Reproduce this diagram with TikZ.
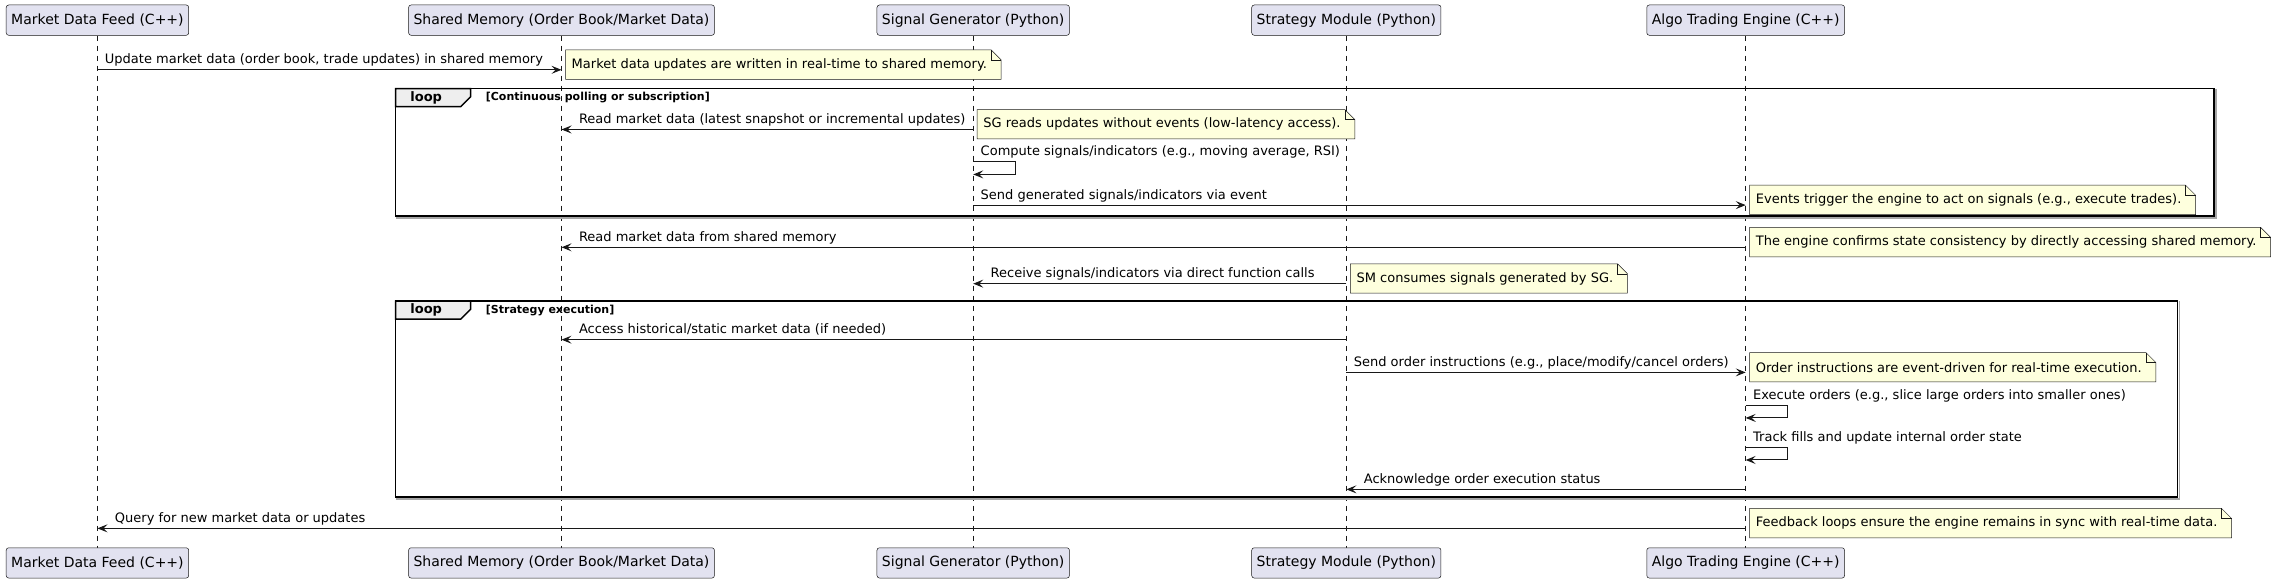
\documentclass[tikz,border=0pt]{standalone}
\usepackage{fontspec}
\setmainfont{DejaVu Sans}
\usetikzlibrary{arrows.meta, positioning}
\definecolor{umlline}{HTML}{181818}
\definecolor{umlhead}{HTML}{E2E2F0}
\definecolor{umlnote}{HTML}{FEFFDD}
\definecolor{umltab}{HTML}{EEEEEE}
\pgfdeclarelayer{lifelayer}
\pgfdeclarelayer{notelayer}
\pgfsetlayers{lifelayer,notelayer,main}
\tikzset{
  headbox/.style = {
    rectangle,
    rounded corners=2.5pt,
    draw=umlline,
    fill=umlhead,
    line width=0.5pt,
    font=\fontsize{14}{16}\selectfont,
    inner xsep=5pt,
    minimum height=30.3pt
  },
  lifeline/.style = {
    draw=umlline,
    line width=0.5pt,
    dash pattern=on 5pt off 5pt
  },
  msg/.style = {
    draw=umlline,
    line width=1pt,
    -{Stealth[length=10pt, width=8pt, inset=4pt]}
  },
  msgtext/.style = {
    font=\fontsize{13}{15}\selectfont,
    inner sep=0pt,
    anchor=base west
  },
  lblR/.style = {msgtext, at start, xshift=7pt, yshift=6pt},
  lblL/.style = {msgtext, at end, xshift=17pt, yshift=6pt},
  lblS/.style = {msgtext, xshift=7pt, yshift=6pt},
  notetext/.style = {
    font=\fontsize{13}{15}\selectfont,
    anchor=south west,
    inner xsep=6pt,
    inner ysep=0pt,
    minimum height=29pt
  },
  notefold/.style = {
    draw=umlline,
    line width=0.5pt
  },
  loopframe/.style = {draw=black, line width=1.5pt},
  loopshadow/.style = {draw=black!35, line width=1.5pt},
  looptab/.style = {draw=black, fill=umltab, line width=1.5pt},
  looplabel/.style = {font=\fontsize{13}{15}\selectfont\bfseries, anchor=west, inner sep=0pt},
  guardlabel/.style = {font=\fontsize{11}{13}\selectfont\bfseries, anchor=west, inner sep=0pt}
}

\begin{document}
\begin{tikzpicture}[x=1.4547pt, y=-1.4547pt]
  \useasboundingbox (0,0) rectangle (1568,401);

  % Participants (top and bottom)
  \node[headbox] (mdf) at (67, 13.85) {Market Data Feed (C++)};
  \node[headbox] (shm) at (386, 13.85) {Shared Memory (Order Book/Market Data)};
  \node[headbox] (sig) at (669, 13.85) {Signal Generator (Python)};
  \node[headbox] (stm) at (925.5, 13.85) {Strategy Module (Python)};
  \node[headbox] (ate) at (1200, 13.85) {Algo Trading Engine (C++)};

  \node[headbox] (mdf-b) at (67, 386.95) {Market Data Feed (C++)};
  \node[headbox] (shm-b) at (386, 386.95) {Shared Memory (Order Book/Market Data)};
  \node[headbox] (sig-b) at (669, 386.95) {Signal Generator (Python)};
  \node[headbox] (stm-b) at (925.5, 386.95) {Strategy Module (Python)};
  \node[headbox] (ate-b) at (1200, 386.95) {Algo Trading Engine (C++)};

  % Lifelines
  \begin{pgfonlayer}{lifelayer}
    \foreach \p in {mdf, shm, sig, stm, ate}
      \draw[lifeline] (\p.south) -- (\p-b.north);
  \end{pgfonlayer}

  % Message rows
  \foreach \r/\y in {r1/48, r2/89, r3/111.2, r3e/119.9, r4/141, r5/170, r6/195,
                     r7/233.5, r8/256, r9/278.5, r9e/287.3, r10/307.3, r10e/316.2,
                     r11/336.4, r12/363.2}
    \coordinate (\r) at (0, \y);

  % Loop frames
  \draw[loopshadow] ([xshift=2pt]1522, 61) -- ([xshift=2pt, yshift=-2pt]1522, 148.5) -- ([yshift=-2pt]272, 148.5);
  \draw[loopframe] (272, 61) rectangle (1522, 148.5);
  \draw[looptab] (272, 61) -- ++(75pt, 0) -- ++(0, -8pt) -- ++(-10pt, -10pt) -- ++(-65pt, 0) -- cycle;
  \node[looplabel] (loopA) at ([xshift=14.5pt, yshift=-9pt]272, 61) {loop};
  \node[guardlabel] (guardA) at ([xshift=90pt, yshift=-9pt]272, 61) {[Continuous polling or subscription]};

  \draw[loopshadow] ([xshift=2pt]1497, 207) -- ([xshift=2pt, yshift=-2pt]1497, 341.5) -- ([yshift=-2pt]272, 341.5);
  \draw[loopframe] (272, 207) rectangle (1497, 341.5);
  \draw[looptab] (272, 207) -- ++(75pt, 0) -- ++(0, -8pt) -- ++(-10pt, -10pt) -- ++(-65pt, 0) -- cycle;
  \node[looplabel] (loopB) at ([xshift=14.5pt, yshift=-9pt]272, 207) {loop};
  \node[guardlabel] (guardB) at ([xshift=90pt, yshift=-9pt]272, 207) {[Strategy execution]};

  % Messages
  \draw[msg] (mdf |- r1) -- node[lblR] {Update market data (order book, trade updates) in shared memory} (shm |- r1);
  \draw[msg] (sig |- r2) -- node[lblL] {Read market data (latest snapshot or incremental updates)} (shm |- r2);
  \draw[msg] (sig |- r3) node[lblS] {Compute signals/indicators (e.g., moving average, RSI)} -- ++(42pt, 0) |- (sig |- r3e);
  \draw[msg] (sig |- r4) -- node[lblR] {Send generated signals/indicators via event} (ate |- r4);
  \draw[msg] (ate |- r5) -- node[lblL] {Read market data from shared memory} (shm |- r5);
  \draw[msg] (stm |- r6) -- node[lblL] {Receive signals/indicators via direct function calls} (sig |- r6);
  \draw[msg] (stm |- r7) -- node[lblL] {Access historical/static market data (if needed)} (shm |- r7);
  \draw[msg] (stm |- r8) -- node[lblR] {Send order instructions (e.g., place/modify/cancel orders)} (ate |- r8);
  \draw[msg] (ate |- r9) node[lblS] {Execute orders (e.g., slice large orders into smaller ones)} -- ++(42pt, 0) |- (ate |- r9e);
  \draw[msg] (ate |- r10) node[lblS] {Track fills and update internal order state} -- ++(42pt, 0) |- (ate |- r10e);
  \draw[msg] (ate |- r11) -- node[lblL] {Acknowledge order execution status} (stm |- r11);
  \draw[msg] (ate |- r12) -- node[lblL] {Query for new market data or updates} (mdf |- r12);

  % Notes
  \node[notetext] (n1) at ([xshift=4pt, yshift=-9.5pt]shm |- r1) {Market data updates are written in real-time to shared memory.};
  \node[notetext] (n2) at ([xshift=4pt, yshift=-9.5pt]sig |- r2) {SG reads updates without events (low-latency access).};
  \node[notetext] (n3) at ([xshift=4pt, yshift=-9.5pt]ate |- r4) {Events trigger the engine to act on signals (e.g., execute trades).};
  \node[notetext] (n4) at ([xshift=4pt, yshift=-9.5pt]ate |- r5) {The engine confirms state consistency by directly accessing shared memory.};
  \node[notetext] (n5) at ([xshift=4pt, yshift=-9.5pt]stm |- r6) {SM consumes signals generated by SG.};
  \node[notetext] (n6) at ([xshift=4pt, yshift=-9.5pt]ate |- r8) {Order instructions are event-driven for real-time execution.};
  \node[notetext] (n7) at ([xshift=4pt, yshift=-9.5pt]ate |- r12) {Feedback loops ensure the engine remains in sync with real-time data.};

  \begin{pgfonlayer}{notelayer}
    \foreach \i in {1,...,7} {
      \filldraw[notefold, fill=umlnote] (n\i.north west) -- ([xshift=-2pt]n\i.north east) -- ([xshift=8pt, yshift=-10pt]n\i.north east) -- ([xshift=8pt]n\i.south east) -- (n\i.south west) -- cycle;
      \draw[notefold] ([xshift=-2pt]n\i.north east) -- ++(0, -10pt) -- ++(10pt, 0);
    }
  \end{pgfonlayer}
\end{tikzpicture}
\end{document}
